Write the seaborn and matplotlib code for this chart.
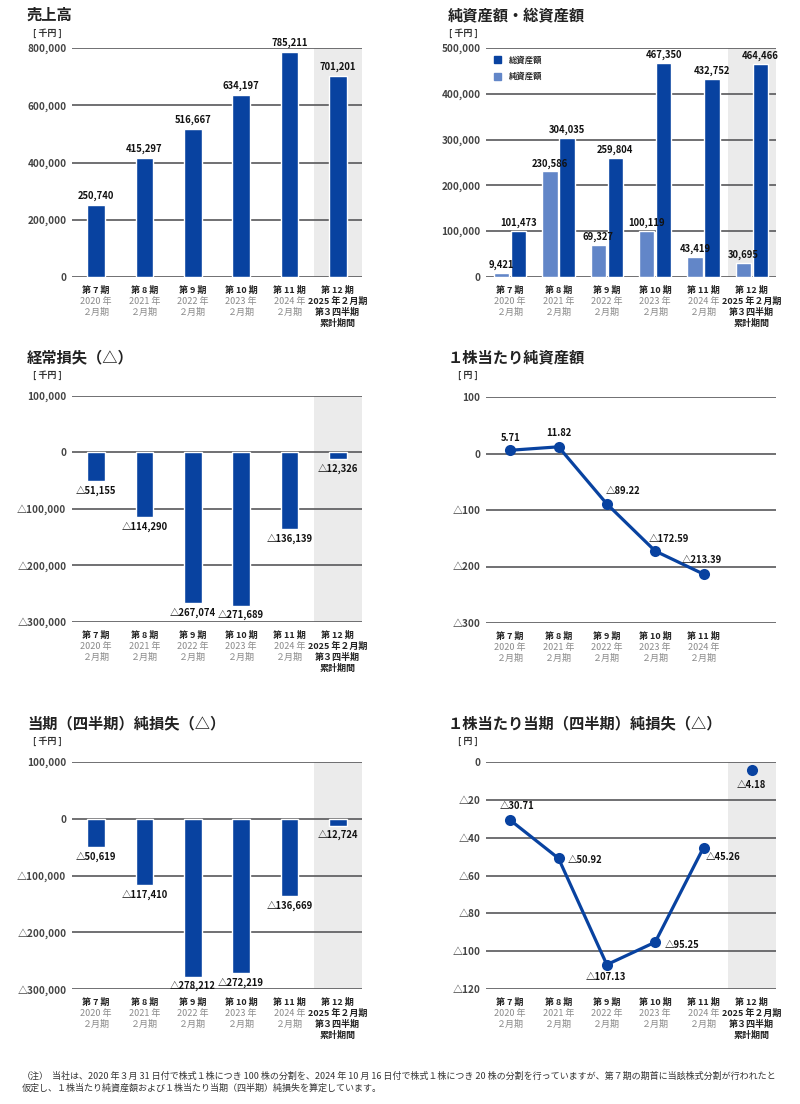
import matplotlib
matplotlib.use("Agg")
import matplotlib.pyplot as plt
import seaborn as sns
import pandas as pd
from matplotlib.patches import Patch

sns.set_theme(style="white")
plt.rcParams['font.family'] = ['Noto Sans CJK JP', 'DejaVu Sans']

# ---- data ----
periods = ["第 7 期", "第 8 期", "第 9 期", "第 10 期", "第 11 期", "第 12 期"]
years = ["2020 年", "2021 年", "2022 年", "2023 年", "2024 年"]
last_lines = ["2025 年２月期", "第３四半期", "累計期間"]

sales = [250740, 415297, 516667, 634197, 785211, 701201]
net_assets = [9421, 230586, 69327, 100119, 43419, 30695]
total_assets = [101473, 304035, 259804, 467350, 432752, 464466]
ordinary_loss = [-51155, -114290, -267074, -271689, -136139, -12326]
net_loss = [-50619, -117410, -278212, -272219, -136669, -12724]
bps = [5.71, 11.82, -89.22, -172.59, -213.39]
eps = [-30.71, -50.92, -107.13, -95.25, -45.26, -4.18]

DARK = "#0842a0"
LIGHT = "#6286c8"
SHADE = "#ebebeb"
GRID = "#58585a"

W, H = 800, 1104
fig = plt.figure(figsize=(W / 100, H / 100), dpi=100)


def px_axes(l, t, r, b):
    return fig.add_axes([l / W, 1 - b / H, (r - l) / W, (b - t) / H])


def fmt(v, dec=False):
    s = f"{abs(v):,.2f}" if dec else f"{abs(v):,.0f}"
    return ("△" + s) if v < 0 else s


def heading(x, y, title, unit, ux):
    fig.text(x / W, 1 - y / H, title, fontsize=11, fontweight="bold",
             color="#222222", va="center")
    fig.text(ux / W, 1 - (y + 18) / H, unit, fontsize=6.5, fontweight="bold",
             color="#333333", va="center")


def style(ax, ticks, dec=False, shade=True, nlab=6):
    for s in ax.spines.values():
        s.set_visible(False)
    ax.set_xlim(-0.5, 5.5)
    ax.set_ylim(ticks[0], ticks[-1])
    ax.set_yticks(ticks)
    ax.set_yticklabels([fmt(t) for t in ticks], fontsize=7.2,
                       fontweight="bold", color="#444444")
    ax.tick_params(axis="y", length=0, pad=4)
    ax.set_xticks([])
    ax.set_xlabel("")
    ax.set_ylabel("")
    for t in ticks:
        ax.axhline(t, color=GRID, lw=1.2, zorder=0.5)
    if shade:
        ax.axvspan(4.5, 5.5, color=SHADE, zorder=0, lw=0)
    # category labels under the axis
    for i in range(nlab):
        lines = [periods[i]] + ([years[i], "２月期"] if i < 5 else last_lines)
        for k, line in enumerate(lines):
            black = (k == 0) or (i == 5)
            ax.annotate(line, xy=(i, 0), xycoords=("data", "axes fraction"),
                        xytext=(0, -9.5 - 7.9 * k), textcoords="offset points",
                        ha="center", va="center", fontsize=6.5,
                        fontweight="bold" if black else "normal",
                        color="#222222" if black else "#8a8a8a",
                        annotation_clip=False)


# ---- 売上高 ----
heading(27, 15, "売上高", "[ 千円 ]", 33)
ax1 = px_axes(72, 48, 362, 277)
sns.barplot(x=periods, y=sales, color=DARK, width=0.37, saturation=1, ax=ax1)
style(ax1, [0, 200000, 400000, 600000, 800000])
ax1.bar_label(ax1.containers[0], labels=[fmt(v) for v in sales], padding=3,
              fontsize=6.8, fontweight="bold", color="#111111")

# ---- 純資産額・総資産額 ----
heading(448, 15, "純資産額・総資産額", "[ 千円 ]", 449)
ax2 = px_axes(486, 48, 776, 277)
df2 = pd.DataFrame({
    "period": periods * 2,
    "kind": ["純資産額"] * 6 + ["総資産額"] * 6,
    "value": net_assets + total_assets,
})
sns.barplot(data=df2, x="period", y="value", hue="kind",
            hue_order=["純資産額", "総資産額"], palette=[LIGHT, DARK],
            width=0.7, gap=0.1, saturation=1, ax=ax2)
style(ax2, [0, 100000, 200000, 300000, 400000, 500000])
for cont, vals in zip(ax2.containers, [net_assets, total_assets]):
    ax2.bar_label(cont, labels=[fmt(v) for v in vals], padding=2,
                  fontsize=6.8, fontweight="bold", color="#111111")
ax2.legend(handles=[Patch(color=DARK, label="総資産額"),
                    Patch(color=LIGHT, label="純資産額")],
           loc="upper left", bbox_to_anchor=(0.0, 1.0), frameon=False,
           prop={"size": 6, "weight": "bold"}, handlelength=0.9,
           handleheight=0.9, labelspacing=0.9, handletextpad=1.0)

# ---- 経常損失 ----
heading(27, 357, "経常損失（△）", "[ 千円 ]", 33)
ax3 = px_axes(72, 396, 362, 622)
sns.barplot(x=periods, y=ordinary_loss, color=DARK, width=0.37, saturation=1, ax=ax3)
style(ax3, [-300000, -200000, -100000, 0, 100000])
ax3.bar_label(ax3.containers[0], labels=[fmt(v) for v in ordinary_loss],
              padding=3, fontsize=6.8, fontweight="bold", color="#111111")

# ---- 1株当たり純資産額 ----
heading(448, 357, "１株当たり純資産額", "[ 円 ]", 458)
ax4 = px_axes(486, 397, 776, 623)
sns.lineplot(x=list(range(len(bps))), y=bps, color=DARK, lw=2.3, marker="o",
             markersize=8, markeredgewidth=0, ax=ax4)
style(ax4, [-300, -200, -100, 0, 100], shade=False, nlab=5)
bps_offsets = [(0, 9), (0, 10), (12, 9), (10, 9), (-1, 10)]
for i, (v, off) in enumerate(zip(bps, bps_offsets)):
    ax4.annotate(fmt(v, True), xy=(i, v), xytext=off, textcoords="offset points",
                 ha="center", va="center", fontsize=6.8, fontweight="bold",
                 color="#111111")

# ---- 当期純損失 ----
heading(27, 723, "当期（四半期）純損失（△）", "[ 千円 ]", 33)
ax5 = px_axes(72, 762, 362, 989)
sns.barplot(x=periods, y=net_loss, color=DARK, width=0.37, saturation=1, ax=ax5)
style(ax5, [-300000, -200000, -100000, 0, 100000])
ax5.bar_label(ax5.containers[0], labels=[fmt(v) for v in net_loss],
              padding=3, fontsize=6.8, fontweight="bold", color="#111111")

# ---- 1株当たり当期純損失 ----
heading(448, 723, "１株当たり当期（四半期）純損失（△）", "[ 円 ]", 458)
ax6 = px_axes(486, 762, 776, 989)
sns.lineplot(x=list(range(5)), y=eps[:5], color=DARK, lw=2.3, marker="o",
             markersize=8, markeredgewidth=0, ax=ax6)
sns.scatterplot(x=[5], y=eps[5:], color=DARK, s=64, linewidth=0, ax=ax6)
style(ax6, [-120, -100, -80, -60, -40, -20, 0])
eps_offsets = [(5, 10), (19, -1), (-1, -9), (19, -2), (14, -7), (0, -11)]
for i, (v, off) in enumerate(zip(eps, eps_offsets)):
    ax6.annotate(fmt(v, True), xy=(i, v), xytext=off, textcoords="offset points",
                 ha="center", va="center", fontsize=6.8, fontweight="bold",
                 color="#111111")

# ---- note ----
fig.text(22 / W, 1 - 1076 / H, "（注）", fontsize=6.5, color="#333333", va="center")
fig.text(52 / W, 1 - 1076 / H,
         "当社は、2020 年３月 31 日付で株式１株につき 100 株の分割を、2024 年 10 月 16 日付で株式１株につき 20 株の分割を行っていますが、第７期の期首に当該株式分割が行われたと",
         fontsize=6.5, color="#333333", va="center")
fig.text(22 / W, 1 - 1088 / H,
         "仮定し、１株当たり純資産額および１株当たり当期（四半期）純損失を算定しています。",
         fontsize=6.5, color="#333333", va="center")

fig.savefig("out.png", dpi=100)
